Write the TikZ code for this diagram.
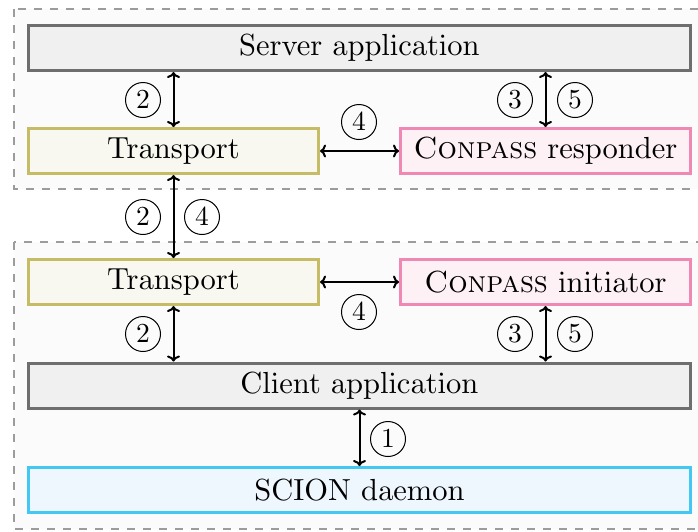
\documentclass[tikz,border=0pt]{standalone}
\usetikzlibrary{arrows.meta}

% text faces at the 10pt design size, scaled up
\font\layerrm=cmr10 at 30.5pt
\font\layersc=cmcsc10 at 30.5pt
\font\steprm=cmr10 at 27.5pt

\definecolor{groupfill}{HTML}{FBFBFB}
\definecolor{groupline}{HTML}{9C9C9C}
\definecolor{appfill}{HTML}{F0F0F0}
\definecolor{appline}{HTML}{6E6E6E}
\definecolor{tpfill}{HTML}{F8F8F0}
\definecolor{tpline}{HTML}{C6BC66}
\definecolor{cpfill}{HTML}{FEF1F6}
\definecolor{cpline}{HTML}{F088B4}
\definecolor{scfill}{HTML}{EEF7FE}
\definecolor{scline}{HTML}{42C8F2}

\tikzset{
  group/.style={draw=groupline, fill=groupfill, line width=2.2pt, dash pattern=on 8pt off 8pt},
  layer/.style={draw, line width=3pt, minimum height=45pt, inner sep=0pt, font=\layerrm},
  app/.style={layer, draw=appline, fill=appfill, minimum width=662pt},
  tp/.style={layer, draw=tpline, fill=tpfill, minimum width=290pt},
  cp/.style={layer, draw=cpline, fill=cpfill, minimum width=290pt},
  daemon/.style={layer, draw=scline, fill=scfill, minimum width=662pt},
  link/.style={line width=2pt, {To[length=6pt,width=13pt]}-{To[length=6pt,width=13pt]}},
  num/.style={circle, draw, line width=1pt, minimum size=35pt, inner sep=0pt, font=\steprm}
}

\begin{document}
\begin{tikzpicture}[x=1pt, y=-1pt]
\useasboundingbox (0,0) rectangle (698,531);

% host groups
\draw[group] (14,9) rectangle (720,189);
\draw[group] (14,242) rectangle (720,529);

% server side
\node[app] (server) at (359.5,48) {Server application};
\node[tp]  (tpserver) at (173.5,151) {Transport};
\node[cp]  (resp) at (545.5,151) {{\layersc Conpass} responder};

% client side
\node[tp]  (tpclient) at (173.5,282) {Transport};
\node[cp]  (init) at (545.5,282) {{\layersc Conpass} initiator};
\node[app] (client) at (359.5,385.5) {Client application};
\node[daemon] (scion) at (359.5,490) {SCION daemon};

% interactions
\draw[link] (tpserver.north) -- (tpserver.north |- server.south);
\draw[link] (resp.north) -- (resp.north |- server.south);
\draw[link] (tpserver.east) -- (resp.west);
\draw[link] (tpserver.south) -- (tpclient.north);
\draw[link] (tpclient.east) -- (init.west);
\draw[link] (tpclient.south) -- (tpclient.south |- client.north);
\draw[link] (init.south) -- (init.south |- client.north);
\draw[link] (client.south) -- (scion.north);

% step numbers
\node[num] (s2a) at (143,100) {2};
\node[num] (s3a) at (515,100) {3};
\node[num] (s5a) at (575,100) {5};
\node[num] (s4a) at (359,122) {4};
\node[num] (s2b) at (143,217) {2};
\node[num] (s4b) at (202,217) {4};
\node[num] (s4c) at (359,312) {4};
\node[num] (s2c) at (143,334) {2};
\node[num] (s3b) at (515,334) {3};
\node[num] (s5b) at (575,334) {5};
\node[num] (s1)  at (388,439) {1};
\end{tikzpicture}
\end{document}
